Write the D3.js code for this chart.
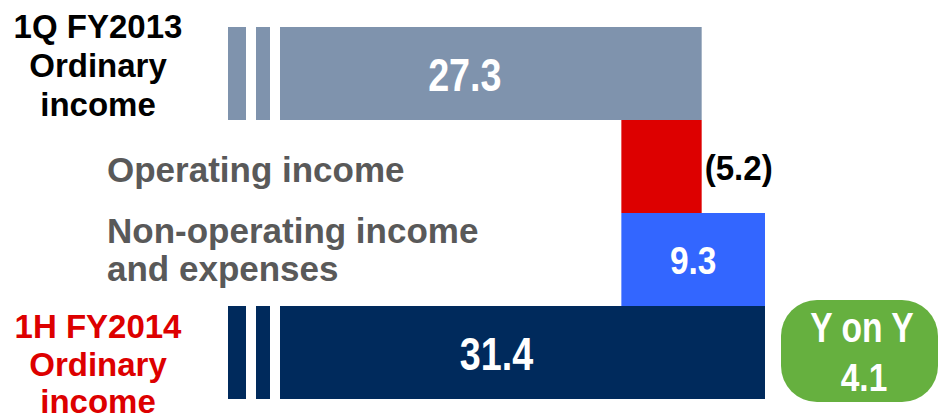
<!DOCTYPE html>
<html>
<head>
<meta charset="utf-8">
<script src="https://cdnjs.cloudflare.com/ajax/libs/d3/7.8.5/d3.min.js"></script>
<style>
  html, body { margin: 0; padding: 0; background: #fff; }
  svg text { font-family: "Liberation Sans", Arial, sans-serif; font-weight: bold; }
</style>
</head>
<body>
<div id="chart-area"><svg></svg></div>
<script>
// Data
const categories = ["1Q FY2013 Ordinary income", "Operating income", "Non-operating income and expenses", "1H FY2014 Ordinary income"];
const values = [27.3, -5.2, 9.3, 31.4];
const kinds = ["total", "delta", "delta", "total"];
const valueLabels = ["27.3", "(5.2)", "9.3", "31.4"];
const rowLabels = [["1Q FY2013", "Ordinary", "income"], ["Operating income"], ["Non-operating income", "and expenses"], ["1H FY2014", "Ordinary", "income"]];
const yoyLabel = ["Y on Y", "4.1"];

const width = 942, height = 418;
const svg = d3.select("#chart-area").select("svg")
    .attr("width", width).attr("height", height);

// Scales
const x = d3.scaleLinear().domain([0, 31.4]).range([280, 765]);
const y = d3.scaleBand().domain(categories).range([27, 399]).paddingInner(0);

// Build waterfall start / end
let running = 0;
const bars = categories.map((c, i) => {
    let x0, x1;
    if (kinds[i] === "total") { x0 = 0; x1 = values[i]; running = values[i]; }
    else {
        const next = running + values[i];
        x0 = Math.min(running, next); x1 = Math.max(running, next);
        running = next;
    }
    return { cat: c, x0, x1, kind: kinds[i], label: valueLabels[i], i };
});
const colors = ["#7f93ad", "#dd0000", "#3366ff", "#002a5c"];

// Bars
svg.selectAll("rect.bar").data(bars).enter().append("rect")
    .attr("class", "bar")
    .attr("x", d => x(d.x0))
    .attr("y", d => y(d.cat))
    .attr("width", d => x(d.x1) - x(d.x0))
    .attr("height", y.bandwidth())
    .attr("fill", d => colors[d.i]);

// Axis-break stubs on the total bars
const stubs = [[-52, -34], [-24, -10]];
bars.filter(d => d.kind === "total").forEach(d => {
    stubs.forEach(s => {
        svg.append("rect")
            .attr("x", x(0) + s[0]).attr("y", y(d.cat))
            .attr("width", s[1] - s[0]).attr("height", y.bandwidth())
            .attr("fill", colors[d.i]);
    });
});

// Value labels
function numText(sel, txt, cx, cy, size, sx, fill, anchor) {
    sel.append("text")
        .attr("transform", `translate(${cx},${cy}) scale(${sx},1)`)
        .attr("text-anchor", anchor || "middle")
        .attr("font-size", size)
        .attr("fill", fill)
        .text(txt);
}
// 27.3 and 31.4 centred on the whole bar (incl. stubs)
[0, 3].forEach(i => {
    const d = bars[i];
    const cx = (x(0) + stubs[0][0] + x(d.x1)) / 2;
    numText(svg, d.label, cx, y(d.cat) + y.bandwidth() / 2 + 17, 46, 0.82, "#fff");
});
// 9.3 inside blue bar
numText(svg, bars[2].label, (x(bars[2].x0) + x(bars[2].x1)) / 2, y(bars[2].cat) + y.bandwidth() / 2 + 14, 38, 0.88, "#fff");
// (5.2) to the right of red bar
numText(svg, bars[1].label, x(bars[1].x1) + 3, y(bars[1].cat) + y.bandwidth() / 2 + 13, 36, 0.92, "#000", "start");

// Row labels
const labelCfg = [
    { x: 98, anchor: "middle", fill: "#000", size: 33, ys: [38, 77, 116] },
    { x: 107, anchor: "start", fill: "#595959", size: 35, ys: [182] },
    { x: 107, anchor: "start", fill: "#595959", size: 35, ys: [243, 281] },
    { x: 98, anchor: "middle", fill: "#dd0000", size: 33, ys: [338, 376, 413] }
];
rowLabels.forEach((lines, i) => {
    const c = labelCfg[i];
    lines.forEach((t, j) => {
        svg.append("text")
            .attr("x", c.x).attr("y", c.ys[j])
            .attr("text-anchor", c.anchor)
            .attr("font-size", c.size)
            .attr("fill", c.fill)
            .text(t);
    });
});

// Y on Y badge
svg.append("rect")
    .attr("x", 781).attr("y", 300).attr("width", 157).attr("height", 102)
    .attr("rx", 36).attr("ry", 36)
    .attr("fill", "#66b03f");
numText(svg, yoyLabel[0], 862, 342, 42, 0.8, "#fff");
numText(svg, yoyLabel[1], 864, 391, 38, 0.88, "#fff");
</script>
</body>
</html>
